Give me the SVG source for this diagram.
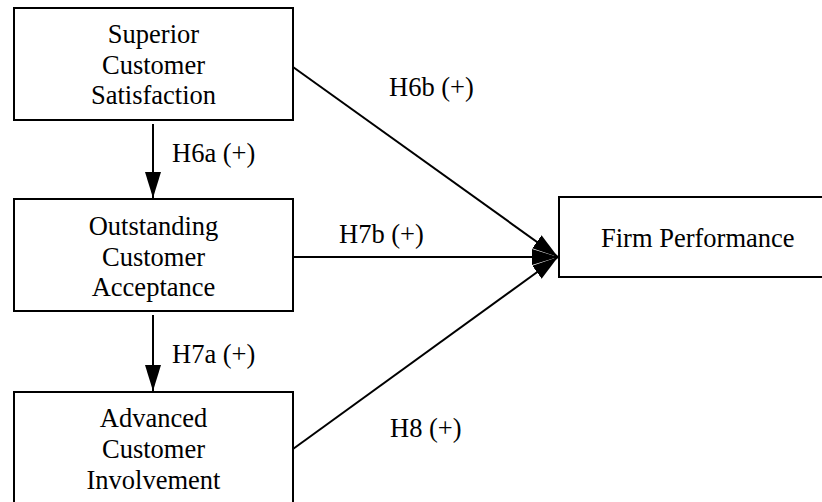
<svg xmlns="http://www.w3.org/2000/svg" width="822" height="502" viewBox="0 0 822 502">
<style>
.box{fill:#fff;stroke:#000;stroke-width:2}
text{font-family:'Liberation Serif','Times New Roman',Times,'DejaVu Serif',serif;font-size:26.5px;fill:#000}
.c{text-anchor:middle}
.ln{stroke:#000;stroke-width:2;fill:none}
</style>
<defs>
<marker id="ah" markerUnits="userSpaceOnUse" markerWidth="28" markerHeight="18" refX="26" refY="8" orient="auto" viewBox="0 0 28 18">
<path d="M0,0 L26,8 L0,16 Z" fill="#000"/>
</marker>
</defs>
<rect width="822" height="502" fill="#fff"/>
<g id="connectors">
<line class="ln" x1="153" y1="124" x2="153" y2="198" marker-end="url(#ah)"/>
<line class="ln" x1="153" y1="315" x2="153" y2="391" marker-end="url(#ah)"/>
<line class="ln" x1="293" y1="67" x2="558" y2="257" marker-end="url(#ah)"/>
<line class="ln" x1="293" y1="257" x2="558" y2="257" marker-end="url(#ah)"/>
<line class="ln" x1="293" y1="449" x2="558" y2="257" marker-end="url(#ah)"/>
<text x="172" y="162" font-family="Liberation Serif, serif">H6a (+)</text>
<text x="172" y="363" font-family="Liberation Serif, serif">H7a (+)</text>
<text x="389" y="96" font-family="Liberation Serif, serif">H6b (+)</text>
<text x="339" y="243" font-family="Liberation Serif, serif">H7b (+)</text>
<text x="390" y="437" font-family="Liberation Serif, serif">H8 (+)</text>
</g>
<g id="n1" font-family="Liberation Serif, serif">
<rect class="box" x="14" y="8" width="279" height="112"/>
<text class="c" x="153.5" y="43">Superior</text>
<text class="c" x="153.5" y="73.5">Customer</text>
<text class="c" x="153.5" y="104">Satisfaction</text>
</g>
<g id="n2">
<rect class="box" x="14" y="199" width="279" height="112"/>
<text class="c" x="153.5" y="235">Outstanding</text>
<text class="c" x="153.5" y="265.5">Customer</text>
<text class="c" x="153.5" y="296">Acceptance</text>
</g>
<g id="n3">
<rect class="box" x="14" y="392" width="279" height="120"/>
<text class="c" x="153.5" y="427">Advanced</text>
<text class="c" x="153.5" y="458">Customer</text>
<text class="c" x="153.5" y="488.5">Involvement</text>
</g>
<g id="n4">
<rect class="box" x="559" y="197" width="270" height="80"/>
<text x="601" y="247">Firm Performance</text>
</g>
</svg>
